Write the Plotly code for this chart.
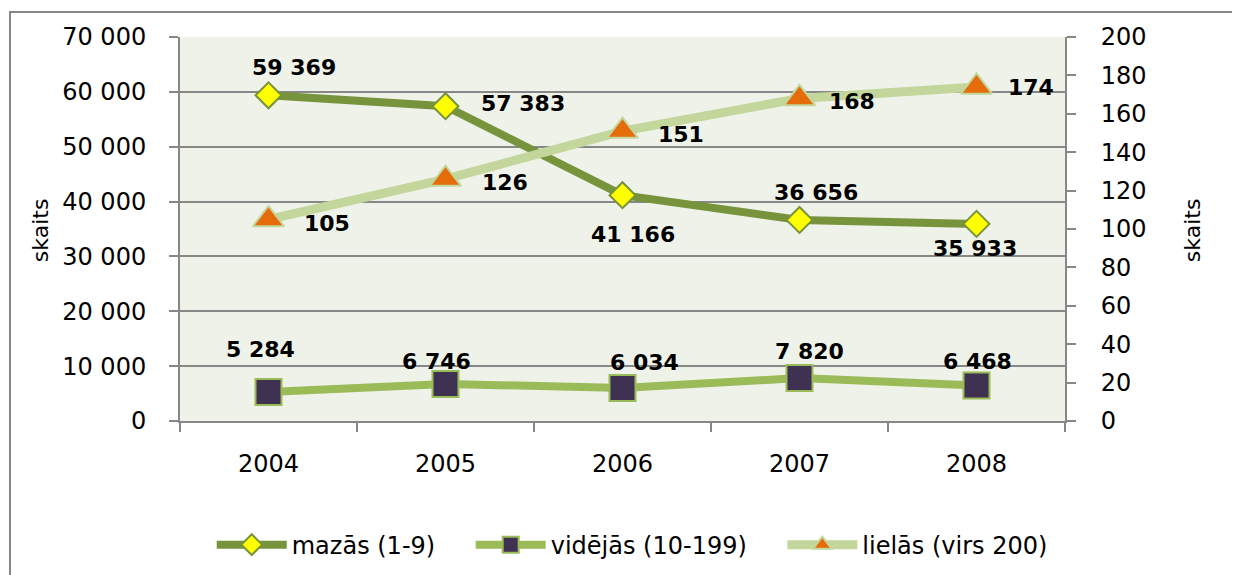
import plotly.graph_objects as go

years = ["2004", "2005", "2006", "2007", "2008"]
mazas = [59369, 57383, 41166, 36656, 35933]
videjas = [5284, 6746, 6034, 7820, 6468]
lielas = [105, 126, 151, 168, 174]

names = ["mazās (1-9)", "vidējās (10-199)", "lielās (virs 200)"]
axis_title = "skaits"

FONT = "DejaVu Sans"
GRID = "#878787"
PAD = "\u00a0" * 4  # spacing between legend entries

def fmt(v):
    return f"{v:,}".replace(",", " ")

fig = go.Figure()

fig.add_trace(go.Scatter(
    x=years, y=mazas, name=names[0] + PAD, mode="lines+markers",
    line=dict(color="#77933C", width=8),
    marker=dict(symbol="diamond", size=20, color="#FFFF00",
                line=dict(color="#77933C", width=2)),
))
fig.add_trace(go.Scatter(
    x=years, y=videjas, name=names[1] + PAD, mode="lines+markers",
    line=dict(color="#9BBB59", width=8),
    marker=dict(symbol="square", size=26, color="#3F3151",
                line=dict(color="#9BBB59", width=2)),
))
fig.add_trace(go.Scatter(
    x=years, y=lielas, name=names[2], mode="lines+markers", yaxis="y2",
    line=dict(color="#C3D69B", width=9),
    marker=dict(symbol="triangle-up", size=27, color="#E46C0A",
                line=dict(color="#C3D69B", width=2)),
))

# data label offsets (pixels, label centre relative to point)
maz_off = [(25, 28), (77, 3), (10, -39), (16, 27), (-2, -25)]
vid_off = [(-8, 43), (-9, 22), (22, 25), (10, 27), (1, 24)]
lie_off = [(58, -4), (59, -3), (58, -3), (52, -3), (54, -1)]

annotations = []
for vals, offs, yref in [(mazas, maz_off, "y"), (videjas, vid_off, "y"), (lielas, lie_off, "y2")]:
    for i, (v, (dx, dy)) in enumerate(zip(vals, offs)):
        annotations.append(dict(
            x=i, y=v, xref="x", yref=yref, text=f"<b>{fmt(v)}</b>",
            showarrow=False, xshift=dx, yshift=dy,
            font=dict(family=FONT, size=22, color="black"),
        ))

# axis titles
for xp in (-0.1582, 1.1435):
    annotations.append(dict(x=xp, y=0.497, xref="paper", yref="paper", text=axis_title,
                            textangle=-90, showarrow=False, xanchor="center", yanchor="middle",
                            font=dict(family=FONT, size=22, color="black")))

fig.update_layout(
    width=1240, height=575,
    margin=dict(l=172, r=183, t=29, b=162),
    paper_bgcolor="white",
    plot_bgcolor="#EFF2E9",
    separators=". ",
    font=dict(family=FONT, size=24, color="black"),
    showlegend=True,
    legend=dict(orientation="h", x=0.511, xanchor="center", y=-0.323, yanchor="middle",
                font=dict(family=FONT, size=24, color="black"),
                itemwidth=70, bgcolor="rgba(0,0,0,0)"),
    xaxis=dict(
        type="category", showgrid=False, showline=True, linecolor=GRID, linewidth=2,
        ticks="outside", ticklen=9, tickcolor=GRID, tickwidth=2, tickson="boundaries",
        tickfont=dict(family=FONT, size=24), range=[-0.5, 4.5], fixedrange=True,
        ticklabelstandoff=20,
    ),
    yaxis=dict(
        range=[0, 70000], dtick=10000, tickformat=",d",
        showgrid=True, gridcolor=GRID, gridwidth=2,
        showline=True, linecolor=GRID, linewidth=2,
        ticks="outside", ticklen=9, tickcolor=GRID, tickwidth=2,
        zeroline=False, tickfont=dict(family=FONT, size=24),
        ticklabelstandoff=18,
    ),
    yaxis2=dict(
        range=[0, 200], dtick=20, overlaying="y", side="right",
        showgrid=False, showline=True, linecolor=GRID, linewidth=2,
        ticks="outside", ticklen=9, tickcolor=GRID, tickwidth=2,
        zeroline=False, tickfont=dict(family=FONT, size=24),
        ticklabelstandoff=20,
    ),
    annotations=annotations,
    shapes=[dict(type="rect", xref="paper", yref="paper",
                 x0=-0.1921, x1=1.25, y0=-0.45, y1=1.0651,
                 line=dict(color=GRID, width=2), fillcolor="rgba(0,0,0,0)", layer="below")],
)

fig.write_html("out.html")
